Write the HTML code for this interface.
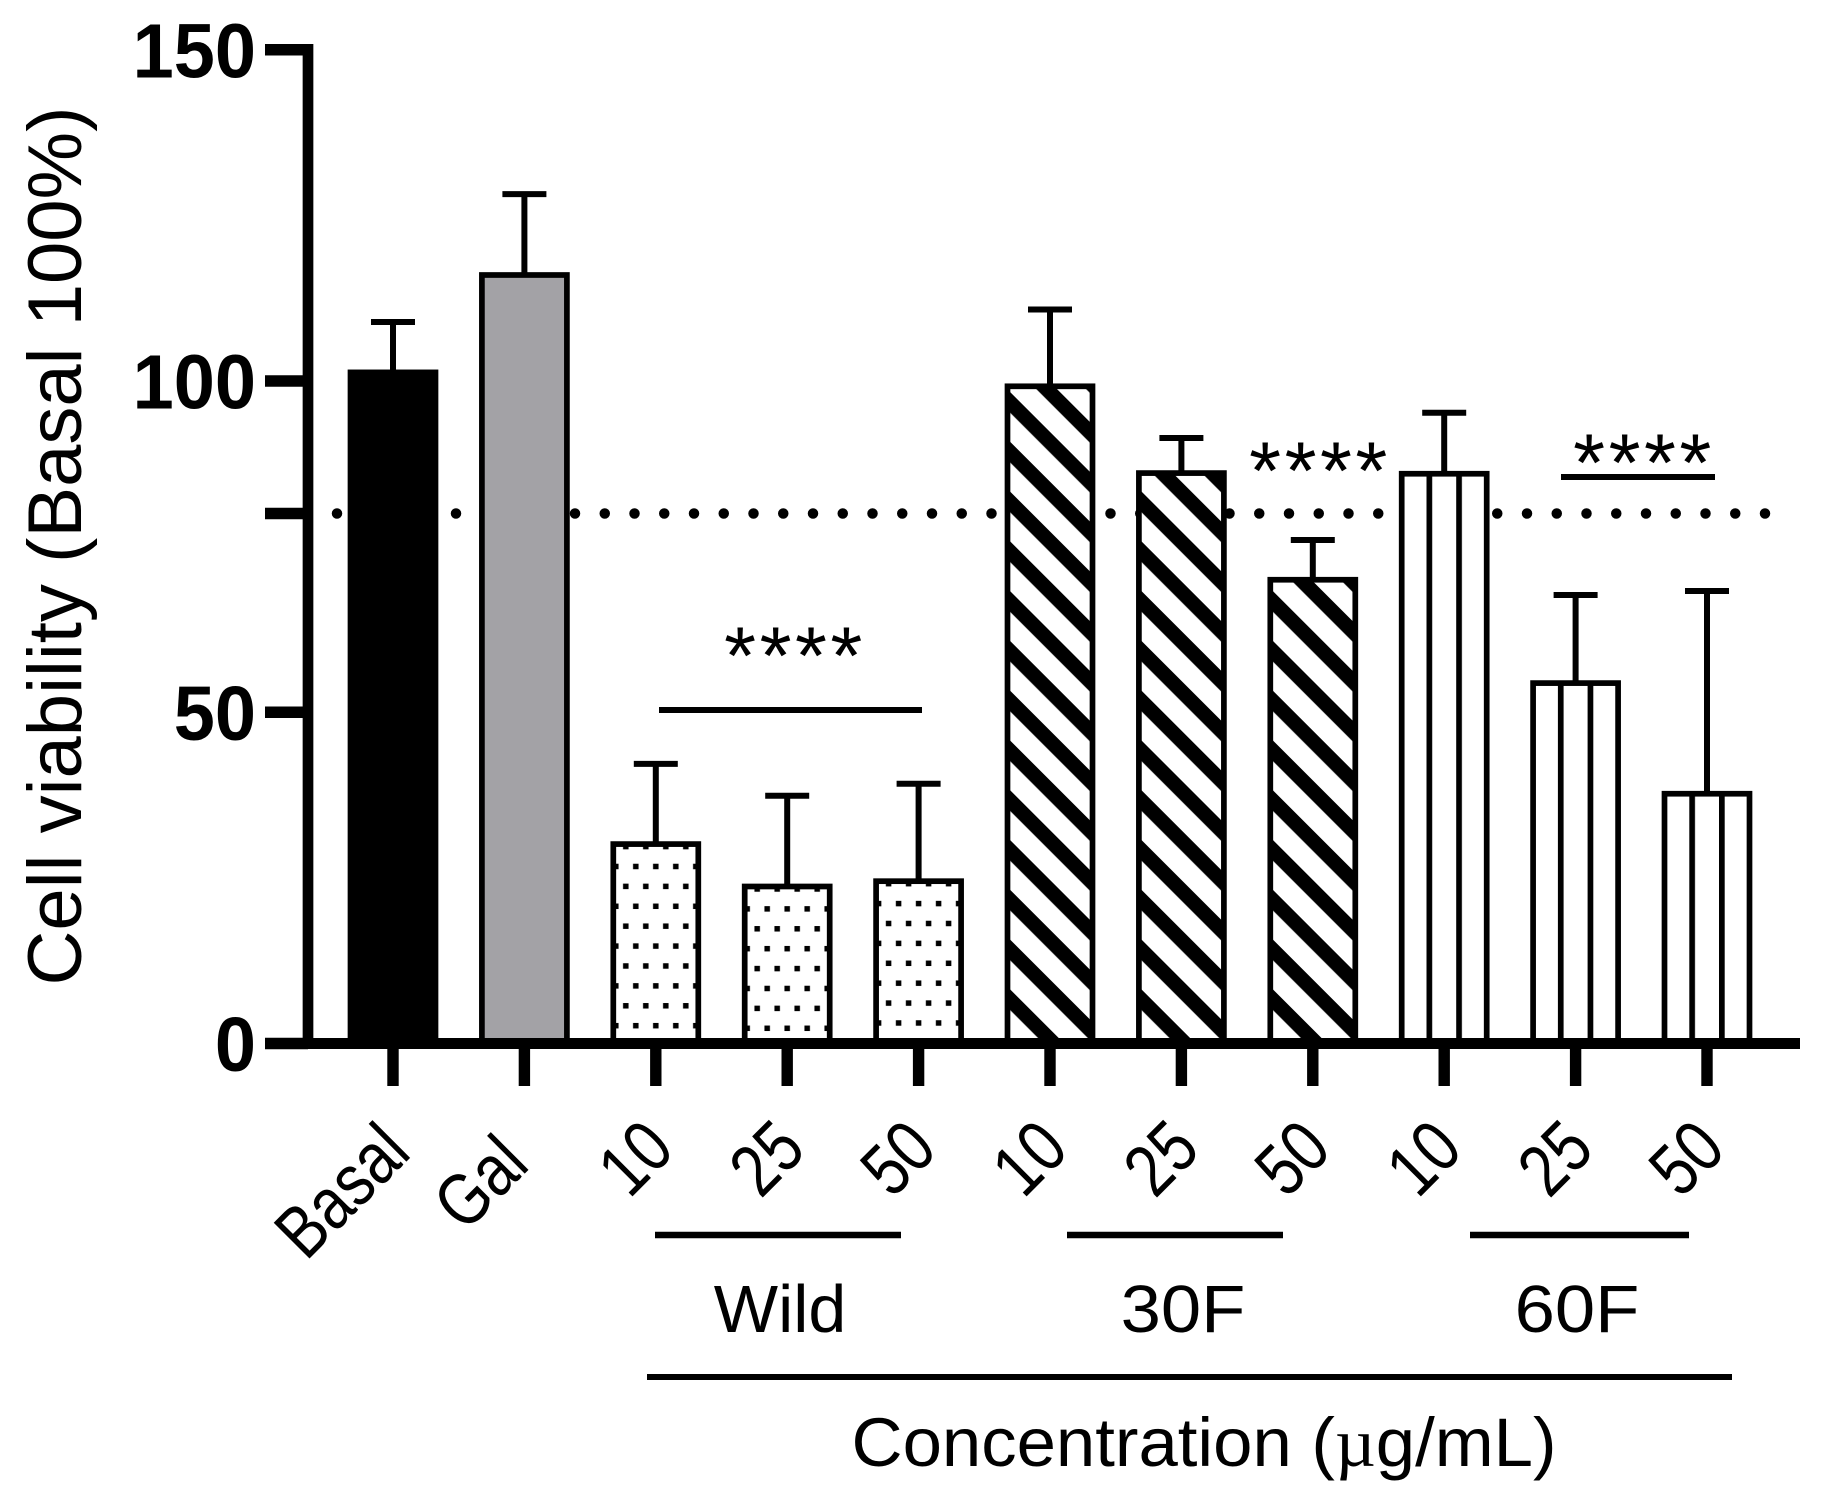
<!DOCTYPE html>
<html lang="en">
<head>
<meta charset="utf-8">
<title>Cell viability bar chart</title>
<style>
html,body{margin:0;padding:0;background:#fff;}
svg{display:block;}
text{font-family:"Liberation Sans",sans-serif;fill:#000;}
</style>
</head>
<body>
<svg id="chart" xmlns="http://www.w3.org/2000/svg" width="1823" height="1507" viewBox="0 0 1823 1507">
  <rect x="0" y="0" width="1823" height="1507" fill="#fff"/>
  <defs id="defs"></defs>
  <g id="reference"></g>
  <g id="errors"></g>
  <g id="bars"></g>
  <g id="axes"></g>
  <text transform="translate(81,546) rotate(-90)" text-anchor="middle" font-size="76" textLength="879" lengthAdjust="spacingAndGlyphs">Cell viability (Basal 100%)</text>

  <line x1="659" x2="922" y1="710" y2="710" stroke="#000" stroke-width="6"/>
  <text x="795" y="684" text-anchor="middle" font-size="82" letter-spacing="3.5">****</text>
  <text x="1320" y="499" text-anchor="middle" font-size="82" letter-spacing="3.5">****</text>
  <line x1="1561" x2="1715" y1="477" y2="477" stroke="#000" stroke-width="6"/>
  <text x="1644" y="491" text-anchor="middle" font-size="82" letter-spacing="3.5">****</text>

  <line x1="655" x2="901" y1="1235" y2="1235" stroke="#000" stroke-width="6.5"/>
  <line x1="1067" x2="1283" y1="1235" y2="1235" stroke="#000" stroke-width="6.5"/>
  <line x1="1470" x2="1689" y1="1235" y2="1235" stroke="#000" stroke-width="6.5"/>
  <text x="780" y="1332" text-anchor="middle" font-size="67" textLength="132.5" lengthAdjust="spacingAndGlyphs">Wild</text>
  <text x="1183" y="1332" text-anchor="middle" font-size="67" textLength="124.8" lengthAdjust="spacingAndGlyphs">30F</text>
  <text x="1577" y="1332" text-anchor="middle" font-size="67" textLength="124.8" lengthAdjust="spacingAndGlyphs">60F</text>
  <line x1="647" x2="1732" y1="1377" y2="1377" stroke="#000" stroke-width="6"/>
  <text x="1204" y="1466" text-anchor="middle" font-size="69" textLength="705" lengthAdjust="spacingAndGlyphs">Concentration (<tspan font-family="Liberation Serif">µ</tspan>g/mL)</text>
</svg>
<script>
const categories = ["Basal", "Gal", "10", "25", "50", "10", "25", "50", "10", "25", "50"];
const groups = ["basal", "gal", "wild", "wild", "wild", "30f", "30f", "30f", "60f", "60f", "60f"];
const means = [101.3, 116, 30.1, 23.7, 24.5, 99.2, 86.1, 70, 86, 54.4, 37.7];
const errorTops = [108.9, 128.2, 42.2, 37.4, 39.2, 110.8, 91.4, 76, 95.2, 67.7, 68.3];
const yTickValues = [0, 50, 100, 150];
const yTickLabels = ["0", "50", "100", "150"];
const thresholdValue = 80;

const NS = "http://www.w3.org/2000/svg";
const xPos = i => 393 + 131.4 * i;
const yPos = v => 1043.5 - v * 6.625;
const BAR_W = 85, STROKE = 5.7;
const defs = document.getElementById("defs");
const refG = document.getElementById("reference");
const errG = document.getElementById("errors");
const barG = document.getElementById("bars");
const axG = document.getElementById("axes");

function mk(tag, attrs, parent) {
  const el = document.createElementNS(NS, tag);
  for (const k in attrs) el.setAttribute(k, attrs[k]);
  if (parent) parent.appendChild(el);
  return el;
}

function makePattern(i, group, cx, top) {
  const id = "fill-" + i;
  const inner = cx - 39.6;
  if (group === "wild") {
    const p = mk("pattern", {id: id, patternUnits: "userSpaceOnUse", x: cx - 10, y: top + 2.5 - 2.75, width: 20, height: 39.8}, defs);
    mk("rect", {x: 0, y: 0, width: 5.5, height: 5.5, fill: "#000", transform: "translate(-2.75,0)"}, p);
    mk("rect", {x: 0, y: 0, width: 5.5, height: 5.5, fill: "#000", transform: "translate(17.25,0)"}, p);
    mk("rect", {x: 7.25, y: 19.9, width: 5.5, height: 5.5, fill: "#000"}, p);
  } else if (group === "30f") {
    const p = mk("pattern", {id: id, patternUnits: "userSpaceOnUse", width: 35.2, height: 35.2,
      patternTransform: "translate(" + inner + ",392.3) rotate(45)"}, defs);
    mk("rect", {x: 0, y: 0, width: 35.2, height: 14.6, fill: "#000"}, p);
  } else if (group === "60f") {
    const p = mk("pattern", {id: id, patternUnits: "userSpaceOnUse", x: cx - 14.85 - 2.85, y: 0, width: 29.7, height: 40}, defs);
    mk("rect", {x: 0, y: 0, width: 5.7, height: 40, fill: "#000"}, p);
  }
  return "url(#" + id + ")";
}

// threshold dotted line
const dots = mk("line", {x1: 337, x2: 1770, y1: yPos(thresholdValue), y2: yPos(thresholdValue), stroke: "#000",
  "stroke-width": 10.5, "stroke-linecap": "round", "stroke-dasharray": "0 29.75"}, refG);



categories.forEach((label, i) => {
  const cx = xPos(i);
  const top = yPos(means[i]);
  const group = groups[i];

  // error bar
  const et = yPos(errorTops[i]);
  const stem = mk("line", {x1: cx, x2: cx, y1: et, y2: top, stroke: "#000", "stroke-width": 6}, errG);
  
  
  const cap = mk("line", {x1: cx - 22, x2: cx + 22, y1: et, y2: et, stroke: "#000", "stroke-width": 6}, errG);
  
  

  // bar
  const base = mk("rect", {x: cx - BAR_W / 2, y: top, width: BAR_W, height: yPos(0) - top,
    fill: group === "basal" ? "#000" : group === "gal" ? "#a3a2a6" : "#fff"}, barG);
  
  
  if (group === "wild" || group === "30f" || group === "60f") {
    const hatch = mk("rect", {x: cx - BAR_W / 2, y: top, width: BAR_W, height: yPos(0) - top,
      fill: makePattern(i, group, cx, top)}, barG);
    
    
  }
  const outline = mk("rect", {x: cx - BAR_W / 2, y: top, width: BAR_W, height: yPos(0) - top,
    fill: "none", stroke: "#000", "stroke-width": STROKE}, barG);
  
  

  // x tick
  const tick = mk("line", {x1: cx, x2: cx, y1: yPos(0), y2: 1086, stroke: "#000", "stroke-width": 11.4}, axG);
  
  

  // x tick label
  const nudgeX = label === "Gal" ? -14 : label === "Basal" ? -1 : 0;
  const nudgeY = label === "Gal" ? 15 : label === "Basal" ? 3 : 0;
  const t = mk("text", {"text-anchor": "end", "font-size": 64,
    transform: "translate(" + (cx + 21 + nudgeX) + "," + (1152 + nudgeY) + ") rotate(-45) scale(0.945,1.15)"}, axG);
  t.textContent = label;
  
  
});

// axis lines
const yAxis = mk("line", {x1: 308, x2: 308, y1: yPos(150) - 5.7, y2: yPos(0) + 5.5, stroke: "#000", "stroke-width": 10.7}, axG);


const xAxis = mk("line", {x1: 265, x2: 1800, y1: yPos(0), y2: yPos(0), stroke: "#000", "stroke-width": 11}, axG);



yTickValues.forEach((v, i) => {
  const tk = mk("line", {x1: 265, x2: 308, y1: yPos(v), y2: yPos(v), stroke: "#000", "stroke-width": 11.4}, axG);
  
  
  const lb = mk("text", {"text-anchor": "end", "font-size": 77, "font-weight": "bold",
    transform: "translate(256," + (yPos(v) + 27.5) + ") scale(0.96,1)"}, axG);
  lb.textContent = yTickLabels[i];
  
  
});
const thTick = mk("line", {x1: 265, x2: 308, y1: yPos(thresholdValue), y2: yPos(thresholdValue), stroke: "#000", "stroke-width": 11.4}, axG);


</script>
</body>
</html>
